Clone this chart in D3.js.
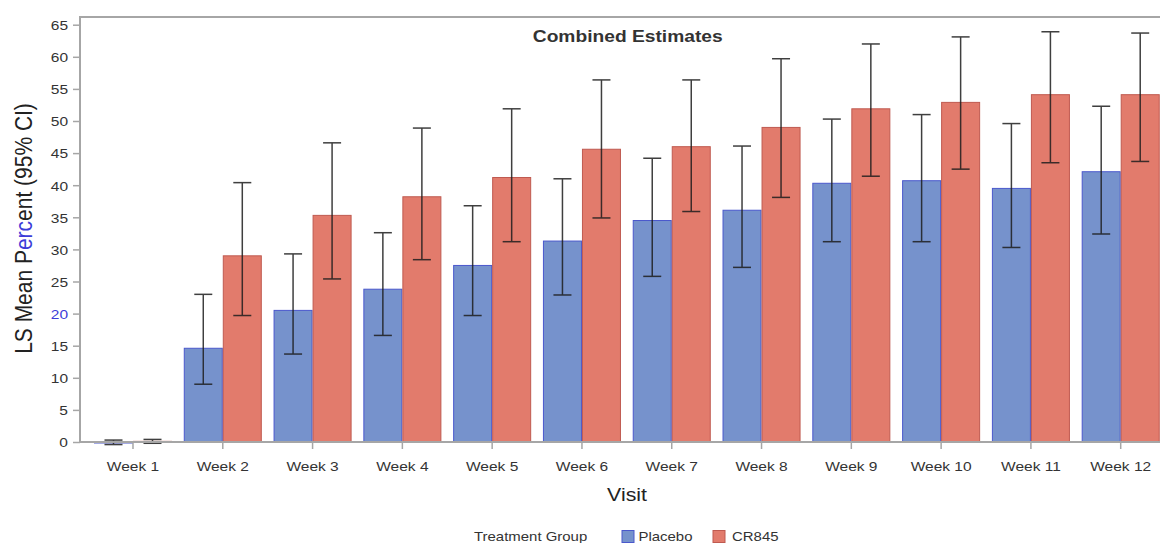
<!DOCTYPE html>
<html>
<head>
<meta charset="utf-8">
<script src="https://cdn.jsdelivr.net/npm/d3@7"></script>
<style>
  html, body { margin: 0; padding: 0; background: #fff; }
  svg { display: block; font-family: "Liberation Sans", Arial, sans-serif; }
</style>
</head>
<body>
<svg id="chart" width="1160" height="543"></svg>
<script>
// Visits on the x axis and the two treatment groups
const visits = ["Week 1", "Week 2", "Week 3", "Week 4", "Week 5", "Week 6",
                "Week 7", "Week 8", "Week 9", "Week 10", "Week 11", "Week 12"];
const groups = ["Placebo", "CR845"];

// LS mean percent with 95% CI limits, per visit
const placeboMean  = [-0.1, 14.6, 20.5, 23.8, 27.5, 31.3, 34.5, 36.1, 40.3, 40.7, 39.5, 42.1];
const placeboLower = [-0.4,  9.0, 13.7, 16.6, 19.7, 22.9, 25.8, 27.2, 31.2, 31.2, 30.3, 32.4];
const placeboUpper = [ 0.3, 23.0, 29.3, 32.6, 36.8, 41.0, 44.2, 46.1, 50.3, 51.0, 49.6, 52.3];
const cr845Mean    = [ 0.1, 29.0, 35.3, 38.2, 41.2, 45.6, 46.0, 49.0, 51.9, 52.9, 54.1, 54.1];
const cr845Lower   = [-0.2, 19.7, 25.4, 28.4, 31.2, 34.9, 35.9, 38.1, 41.4, 42.5, 43.5, 43.7];
const cr845Upper   = [ 0.4, 40.4, 46.6, 48.9, 51.9, 56.4, 56.4, 59.7, 62.0, 63.1, 63.9, 63.7];

// Y axis ticks
const yTicks = [0, 5, 10, 15, 20, 25, 30, 35, 40, 45, 50, 55, 60, 65];
const yTop = 66.2;

const fills   = { "Placebo": "#7692cc", "CR845": "#e27b6c" };
const strokes = { "Placebo": "#4a58cc", "CR845": "#bf5a50" };
const sx = 1.15; // horizontal text stretch

const rows = [];
visits.forEach((v, i) => {
  rows.push({ visit: v, group: "Placebo", mean: placeboMean[i], lo: placeboLower[i], hi: placeboUpper[i] });
  rows.push({ visit: v, group: "CR845",   mean: cr845Mean[i],   lo: cr845Lower[i],   hi: cr845Upper[i] });
});

const svg = d3.select("#chart");
const plotLeft = 80, plotTop = 17, plotBottom = 442, plotRight = 1160;

const x = d3.scaleBand().domain(visits).range([88.1, 1165.6])
  .paddingInner(0.131).paddingOuter(0.0655);
const xs = d3.scaleBand().domain(groups).range([0, x.bandwidth()]);
const y = d3.scaleLinear().domain([0, yTop]).range([plotBottom, plotTop]);

// bars
const bars = svg.append("g");
bars.selectAll("rect").data(rows).join("rect")
  .attr("x", d => x(d.visit) + xs(d.group) + 0.5)
  .attr("width", xs.bandwidth() - 1)
  .attr("y", d => y(Math.max(0, d.mean)))
  .attr("height", d => Math.max(1, Math.abs(y(d.mean) - y(0))))
  .attr("fill", d => fills[d.group])
  .attr("stroke", d => strokes[d.group])
  .attr("stroke-width", 1);

// confidence intervals
const eb = svg.append("g").attr("stroke", "#1e1e1e").attr("stroke-width", 1.5).attr("opacity", 0.85);
const cx = d => x(d.visit) + xs(d.group) + xs.bandwidth() / 2;
eb.selectAll("line.v").data(rows).join("line").attr("class", "v")
  .attr("x1", cx).attr("x2", cx).attr("y1", d => y(d.lo)).attr("y2", d => y(d.hi));
eb.selectAll("line.h").data(rows).join("line").attr("class", "h")
  .attr("x1", d => cx(d) - 9).attr("x2", d => cx(d) + 9).attr("y1", d => y(d.hi)).attr("y2", d => y(d.hi));
eb.selectAll("line.l").data(rows).join("line").attr("class", "l")
  .attr("x1", d => cx(d) - 9).attr("x2", d => cx(d) + 9).attr("y1", d => y(d.lo)).attr("y2", d => y(d.lo));

// frame
const frame = svg.append("g").attr("stroke", "#a6a6a6").attr("stroke-width", 2).attr("fill", "none");
frame.append("path").attr("d", `M${plotRight},${plotTop}H${plotLeft}V${plotBottom}H${plotRight}`);

// y axis
const yAxis = svg.append("g").attr("transform", `translate(${plotLeft},0)`)
  .call(d3.axisLeft(y).tickValues(yTicks).tickSize(7).tickSizeOuter(0));
yAxis.select(".domain").remove();
yAxis.selectAll(".tick line").attr("stroke", "#a6a6a6").attr("stroke-width", 1.5);
yAxis.selectAll(".tick text")
  .attr("x", -12 / sx).attr("dy", "0.36em")
  .attr("transform", `scale(${sx},1)`)
  .attr("font-size", 13.5)
  .attr("fill", d => d === 20 ? "#3c3cd8" : "#333");

// x axis
const xAxis = svg.append("g").attr("transform", `translate(0,${plotBottom})`)
  .call(d3.axisBottom(x).tickSize(7).tickSizeOuter(0));
xAxis.select(".domain").remove();
xAxis.selectAll(".tick line").attr("stroke", "#a6a6a6").attr("stroke-width", 1.5);
xAxis.selectAll(".tick text")
  .attr("y", 29).attr("dy", 0)
  .attr("transform", `scale(${sx},1)`)
  .attr("font-size", 13.5).attr("fill", "#333");

// title
svg.append("text")
  .attr("transform", `translate(627.7,42) scale(${sx},1)`)
  .attr("text-anchor", "middle").attr("font-size", 16.7).attr("font-weight", "bold")
  .attr("fill", "#333").text("Combined Estimates");

// axis titles
svg.append("text")
  .attr("transform", `translate(627,501) scale(${sx},1)`)
  .attr("text-anchor", "middle").attr("font-size", 18.5).attr("fill", "#222").text("Visit");

const yl = svg.append("text")
  .attr("transform", `translate(32,228.5) scale(${sx},1) rotate(-90)`)
  .attr("text-anchor", "middle").attr("font-size", 21).attr("fill", "#222");
yl.append("tspan").text("LS Mean P");
yl.append("tspan").attr("fill", "#3c3cd8").text("erc");
yl.append("tspan").text("ent (95% CI)");

// legend
const lg = svg.append("g");
lg.append("text").attr("transform", `translate(474,541) scale(${sx},1)`)
  .attr("font-size", 13).attr("fill", "#333").text("Treatment Group");
const items = [
  { g: "Placebo", sq: 622, tx: 638.5 },
  { g: "CR845",   sq: 713, tx: 732 }
];
items.forEach(it => {
  lg.append("rect").attr("x", it.sq).attr("y", 530.5).attr("width", 12).attr("height", 12)
    .attr("fill", fills[it.g]).attr("stroke", strokes[it.g]).attr("stroke-width", 1);
  lg.append("text").attr("transform", `translate(${it.tx},541) scale(${sx},1)`)
    .attr("font-size", 13).attr("fill", "#333").text(it.g);
});
</script>
</body>
</html>
